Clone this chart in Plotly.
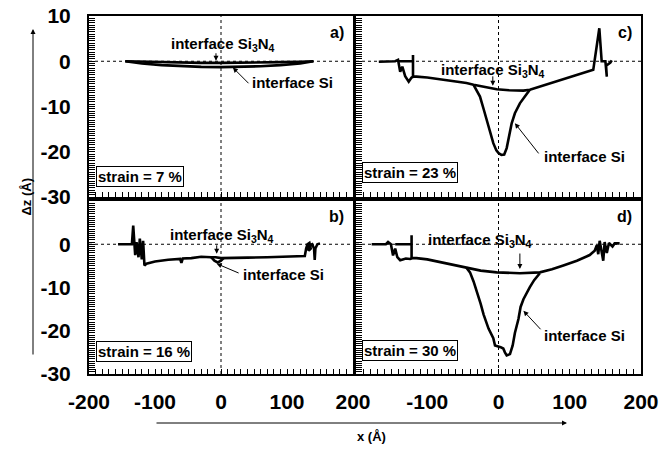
import plotly.graph_objects as go

# ---------------- data ----------------
# Panel a) strain = 7 %
a_top_x = [-145, -120, -90, -60, -30, 0, 30, 60, 90, 120, 140]
a_top_y = [0, -0.1, -0.2, -0.3, -0.35, -0.35, -0.35, -0.3, -0.2, -0.1, 0]
a_si_x = [-145, -120, -90, -60, -30, 0, 30, 60, 90, 120, 140]
a_si_y = [0, -0.5, -0.85, -1.1, -1.25, -1.3, -1.25, -1.1, -0.85, -0.5, 0]

# Panel b) strain = 16 %
b_top_x = [-156, -135, -133, -130, -128, -125, -123, -120, -118, -116, -113, -100, -80, -62, -60, -58,
           -45, -30, -15, -8, 0, 10, 40, 70, 100, 127, 129, 131, 134, 136, 133, 131, 138, 141, 142, 143, 146, 150]
b_top_y = [0, 0, 4.3, -2.5, 0.5, -3.0, 1.3, -3.5, 0.8, -4.9, -4.5, -4.0, -3.6, -3.4, -4.3, -3.3,
           -3.2, -2.9, -3.0, -3.0, -3.2, -3.2, -3.1, -3.0, -2.9, -2.7, -1.0, 0.0, 0.3, -1.0, -1.5, -0.5, 0.0, -1.0, -3.6, -1.0, 0.0, 0.2]
b_si_x = [-15, -10, -5, 0, 4]
b_si_y = [-3.0, -3.8, -4.2, -3.8, -3.2]

# Panel c) strain = 23 %
c_top_x = [-168, -145, -141, -138, -135, -131, -126, -122, -119, -115, -100, -85, -73, -60, -45, -35, -20, -2.5,
           15, 35, 44, 60, 75, 91, 110, 125, 133, 141.5, 144.8, 150, 152, 151, 157, 159,
           None, -141, -120, -120, -120]
c_top_y = [-0.1, 0, 0.3, -2.3, -1.2, -3.3, -4.5, -3.6, -3.4, -3.4, -3.6, -3.9, -4.1, -4.4, -4.8, -5.2, -5.7, -6.2,
           -6.4, -6.5, -6.3, -5.5, -4.8, -4.1, -3.0, -2.3, -1.9, 7.3, 0.0, 0.0, -3.4, -1.0, -0.3, 0.2,
           None, 0, 0, 1.4, -3.6]
c_si_x = [-35, -30, -26, -21, -16.6, -12, -7.3, -3, 0, 4, 8, 11.5, 15, 18.5, 23, 30, 37, 44]
c_si_y = [-5.2, -6.5, -7.8, -10.5, -13, -15.8, -18.1, -19.7, -20.3, -20.7, -20.6, -19.2, -16.5, -13.7, -11.5, -9.3, -7.8, -6.3]

# Panel d) strain = 30 %
d_top_x = [-178, -158, -155, -151, -148, -145, -142, -138, -130, -124, -120, -115, -100, -82, -65, -45, -25, -2.5,
           30, 58, 75, 91, 110, 128, 135, 138, 140, 142, 145, 147, 149, 152, 155, 160, 163, 170,
           None, -145, -122, -122, -122]
d_top_y = [0, 0, 0.5, 0, -2.6, -1.0, -3.0, -3.7, -3.3, -3.4, -3.2, -3.2, -3.5, -4.1, -4.7, -5.4, -6.1, -6.5,
           -6.7, -6.5, -5.8, -4.9, -3.8, -2.5, -1.5, -0.2, -2.3, 0.8, -1.5, -3.8, 0.5, -2.0, 0.3, -0.5, 0.2, 0.2,
           None, 0, 0, 2.1, -3.3]
d_si_x = [-45, -40, -35, -30, -25, -21, -14, -7.3, -4.9, 3, 6.7, 9, 11.5, 16.1, 19.9, 23, 28, 31, 35, 44, 50, 58]
d_si_y = [-5.4, -6.5, -8.6, -11, -13.8, -16.2, -19.5, -21.7, -23.4, -23.8, -24.1, -25, -25.7, -25.4, -23.4, -20.5, -17.3, -14.5, -12.7, -9.9, -8.3, -6.7]

panel_labels = ["a)", "c)", "b)", "d)"]
strain_labels = ["strain = 7 %", "strain = 23 %", "strain = 16 %", "strain = 30 %"]
x_range = [-200, 200]
y_range = [-30, 10]
xb_ticks = [-200, -100, 0, 100, 200]
xb_text = ["-200", "-100", "0", "100", "200"]
xd_ticks = [-100, 0, 100, 200]
xd_text = ["-100", "0", "100", "200"]
ya_ticks = [10, 0, -10, -20, -30]
ya_text = ["10", "0", "-10", "-20", "-30"]
yb_ticks = [0, -10, -20, -30]
yb_text = ["0", "-10", "-20", "-30"]

# ---------------- figure ----------------
W, H = 662, 457
FONT = "Liberation Sans, Arial, Helvetica, sans-serif"

def px(x):
    return x / W

def py(y):
    return 1 - y / H

fig = go.Figure()

panels = [
    ("x", "y", a_top_x, a_top_y, a_si_x, a_si_y),
    ("x2", "y2", c_top_x, c_top_y, c_si_x, c_si_y),
    ("x3", "y3", b_top_x, b_top_y, b_si_x, b_si_y),
    ("x4", "y4", d_top_x, d_top_y, d_si_x, d_si_y),
]
for xa, ya, tx, ty, sx, sy in panels:
    fig.add_trace(go.Scatter(x=tx, y=ty, xaxis=xa, yaxis=ya, mode="lines",
                             line=dict(color="black", width=2.6), connectgaps=False,
                             hoverinfo="skip", showlegend=False))
    fig.add_trace(go.Scatter(x=sx, y=sy, xaxis=xa, yaxis=ya, mode="lines",
                             line=dict(color="black", width=2.6),
                             hoverinfo="skip", showlegend=False))

left_dom = [px(89), px(353)]
right_dom = [px(356), px(641)]
top_dom = [py(197), py(16)]
bot_dom = [py(374), py(201)]

TICKFONT = dict(family=FONT, size=21, color="black", weight="bold")
common_x = dict(range=x_range, showgrid=False, zeroline=False, showline=True, linecolor="black",
                linewidth=2, mirror=True, ticks="inside", ticklen=5, tickwidth=1, tickcolor="black",
                tickmode="array", tickvals=xb_ticks, ticktext=xb_text,
                minor=dict(ticks="inside", ticklen=5, tickwidth=1, tickmode="linear", tick0=0, dtick=10,
                           tickcolor="black", showgrid=False),
                tickfont=TICKFONT, ticklabelstandoff=8)
common_y = dict(range=y_range, showgrid=False, zeroline=False, showline=True, linecolor="black",
                linewidth=2, mirror=True, ticks="inside", ticklen=6, tickwidth=1, tickcolor="black",
                tickmode="array", tickvals=ya_ticks, ticktext=ya_text,
                minor=dict(ticks="inside", ticklen=6, tickwidth=1, tickmode="linear", tick0=0, dtick=0.5,
                           tickcolor="black", showgrid=False),
                tickfont=TICKFONT, ticklabelstandoff=12)

fig.update_layout(
    width=W, height=H, margin=dict(l=0, r=0, t=0, b=0, autoexpand=False), autosize=False,
    paper_bgcolor="white", plot_bgcolor="white",
    xaxis=dict(common_x, domain=left_dom, anchor="y", showticklabels=False),
    yaxis=dict(common_y, domain=top_dom, anchor="x"),
    xaxis2=dict(common_x, domain=right_dom, anchor="y2", showticklabels=False),
    yaxis2=dict(common_y, domain=top_dom, anchor="x2", showticklabels=False),
    xaxis3=dict(common_x, domain=left_dom, anchor="y3"),
    yaxis3=dict(common_y, domain=bot_dom, anchor="x3", tickvals=yb_ticks, ticktext=yb_text),
    xaxis4=dict(common_x, domain=right_dom, anchor="y4", tickvals=xd_ticks, ticktext=xd_text),
    yaxis4=dict(common_y, domain=bot_dom, anchor="x4", showticklabels=False),
)

# dotted zero lines
shapes = []
axes_pairs = [("x", "y"), ("x2", "y2"), ("x3", "y3"), ("x4", "y4")]
for xa, ya in axes_pairs:
    shapes.append(dict(type="line", xref=xa, yref=ya, x0=0, x1=0, y0=y_range[0], y1=y_range[1],
                       line=dict(color="black", width=1, dash="dot"), layer="below"))
    shapes.append(dict(type="line", xref=xa, yref=ya, x0=x_range[0], x1=x_range[1], y0=0, y1=0,
                       line=dict(color="black", width=1, dash="dot"), layer="below"))
fig.update_layout(shapes=shapes)

TXT = dict(family=FONT, size=15, color="black", weight="bold")
anns = []
for (xa, ya), lab in zip(axes_pairs, panel_labels):
    anns.append(dict(text=lab, xref=xa + " domain", yref=ya + " domain", x=0.975, y=0.91,
                     xanchor="right", yanchor="middle", showarrow=False,
                     font=dict(family=FONT, size=16, color="black", weight="bold")))
strain_pos = [(0.027, 0.055), (0.02, 0.077), (0.027, 0.072), (0.02, 0.074)]
for (xa, ya), lab, (sx, sy) in zip(axes_pairs, strain_labels, strain_pos):
    anns.append(dict(text=lab, xref=xa + " domain", yref=ya + " domain", x=sx, y=sy,
                     xanchor="left", yanchor="bottom", showarrow=False, font=TXT,
                     bordercolor="black", borderwidth=1, borderpad=1, bgcolor="white"))

si3n4 = "interface Si<sub>3</sub>N<sub>4</sub>"
# (axis pair, text pos, arrow tail, arrow head)
si3n4_ann = [
    (("x", "y"), (3, 3.6), (-7.6, 2.1), (-7.6, 0.1)),
    (("x2", "y2"), (-7.7, -2.0), (-8, -3.0), (-8, -5.4)),
    (("x3", "y3"), (1.5, 2.0), (-6.5, 0.1), (-6.5, -2.2)),
    (("x4", "y4"), (-26, 0.9), (30, -1.8), (30, -5.7)),
]
si_ann = [
    (("x", "y"), (109, -4.8), (44, -5.2), (18, -1.4)),
    (("x2", "y2"), (121, -21), (58, -20.7), (23, -13.7)),
    (("x3", "y3"), (94, -7.0), (29, -6.8), (-6.5, -4.5)),
    (("x4", "y4"), (121, -21), (61, -20), (35, -15.4)),
]
for lst, text in [(si3n4_ann, si3n4), (si_ann, "interface Si")]:
    for (xa, ya), (tx, ty), (ax, ay), (hx, hy) in lst:
        anns.append(dict(text=text, xref=xa, yref=ya, x=tx, y=ty, showarrow=False, font=TXT,
                         xanchor="center", yanchor="middle"))
        anns.append(dict(text="", xref=xa, yref=ya, x=hx, y=hy, axref=xa, ayref=ya, ax=ax, ay=ay,
                         showarrow=True, arrowhead=2, arrowsize=1, arrowwidth=1, arrowcolor="black"))

# axis arrows and titles
anns.append(dict(text="", xref="paper", yref="paper", x=px(33), y=py(29), axref="pixel", ayref="pixel",
                 ax=0, ay=356 - 29, showarrow=True, arrowhead=2, arrowsize=1, arrowwidth=1, arrowcolor="black"))
anns.append(dict(text="", xref="paper", yref="paper", x=px(567), y=py(423), axref="pixel", ayref="pixel",
                 ax=155 - 567, ay=0, showarrow=True, arrowhead=2, arrowsize=1, arrowwidth=1, arrowcolor="black"))
anns.append(dict(text="Δz (Å)", xref="paper", yref="paper", x=px(17), y=py(197), textangle=-90,
                 showarrow=False, font=dict(family=FONT, size=13, color="black", weight="bold")))
anns.append(dict(text="x (Å)", xref="paper", yref="paper", x=px(371), y=py(446),
                 showarrow=False, font=dict(family=FONT, size=13, color="black", weight="bold")))
fig.update_layout(annotations=anns)

fig.write_html("out.html")
